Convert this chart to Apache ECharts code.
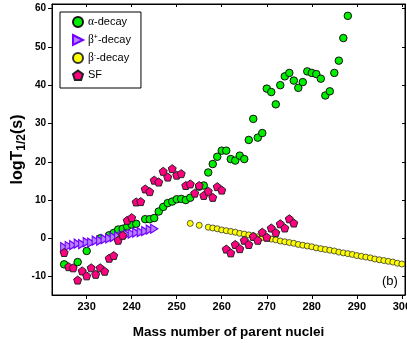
<!DOCTYPE html>
<html>
<head>
<meta charset="utf-8">
<script src="https://cdn.jsdelivr.net/npm/echarts@6/dist/echarts.min.js"></script>
<style>html,body{margin:0;padding:0;background:#fff}#c{width:407px;height:343px}</style>
</head>
<body>
<div id="c"></div>
<script>
// ---- data ----
var alphaA = [225,228,230,233,235,236,237,238,239,240,241,243,244,245,246,247,248,249,250,251,252,253,255,256,257,258,259,260,261,262,263,264,265,266,267,268,269,270,271,272,273,274,275,276,277,278,279,280,281,282,283,284,285,286,287,288];
var alphaV = [-6.8,-6.2,-3.3,0.0,0.8,1.4,2.3,2.5,3.1,3.6,3.8,5.0,5.0,5.3,7.0,8.2,9.2,9.6,10.2,10.3,10.0,10.6,13.5,13.8,17.2,19.4,21.3,22.9,22.9,20.7,20.3,21.6,20.7,25.7,31.2,26.3,27.5,39.1,38.2,35.0,40.0,42.3,43.2,41.2,39.3,40.8,43.6,43.2,42.9,41.7,37.3,38.4,43.2,46.4,52.3,58.1];

var betaPlusA = [225,226,227,228,229,230,231,232,233,234,235,236,237,238,239,240,241,242,243,244,245];
var betaPlusV = [-2.3,-2.0,-1.8,-1.4,-1.5,-1.0,-1.1,-0.6,-0.6,-0.2,0.0,0.3,0.5,0.7,1.0,1.2,1.5,1.6,1.9,2.3,2.5];

var betaMinusA = [253,255,257,258,259,260,261,262,263,264,265,266,267,268,269,270,271,272,273,274,275,276,277,278,279,280,281,282,283,284,285,286,287,288,289,290,291,292,293,294,295,296,297,298,299,300];
var betaMinusV = [3.9,3.4,2.9,2.7,2.5,2.2,2.0,1.8,1.6,1.3,1.1,0.9,0.7,0.4,0.2,0.0,-0.2,-0.4,-0.7,-0.9,-1.1,-1.3,-1.6,-1.8,-2.0,-2.2,-2.5,-2.7,-2.9,-3.1,-3.3,-3.6,-3.8,-4.0,-4.2,-4.5,-4.7,-4.9,-5.1,-5.4,-5.6,-5.8,-6.0,-6.2,-6.5,-6.7];

var sfA = [225,226,227,228,229,230,231,232,233,234,235,236,237,238,239,240,241,242,243,244,245,246,247,248,249,250,251,252,253,254,255,256,257,258,259,260,261,262,263,264,265,266,267,268,269,270,271,272,273,274,275,276];
var sfV = [-3.7,-7.4,-7.7,-10.9,-8.5,-9.8,-7.7,-9.4,-7.7,-8.6,-5.2,-4.5,-0.5,0.8,4.7,5.4,9.5,9.6,12.9,12.2,15.2,14.7,17.5,16.0,18.2,16.5,16.9,13.8,14.2,11.8,13.8,11.2,12.3,10.7,13.5,12.6,-2.8,-3.8,-1.6,-2.7,-0.5,-1.6,0.5,-0.5,1.6,0.3,2.7,1.5,3.8,2.7,5.1,4.0];

var xTicks = [230,240,250,260,270,280,290,300];
var yTicks = [-10,0,10,20,30,40,50,60];
var seriesNames = ['α-decay','β+-decay','β--decay','SF'];

function pairs(a, v){ return a.map(function(x,i){ return [x, v[i]]; }); }

var FONT = 'Arial, "Liberation Sans", sans-serif';
var pentagon = 'path://M0,-1 L0.951,-0.309 L0.588,0.809 L-0.588,0.809 L-0.951,-0.309 Z';
var triRight = 'path://M0,0 L10,5 L0,10 Z';

var XMIN = 222.3, XMAX = 300.7, YMIN = -14.8, YMAX = 61.2;

var chart = echarts.init(document.getElementById('c'), null, {renderer:'canvas'});
chart.setOption({
  animation: false,
  backgroundColor: '#fff',
  grid: {left: 52, right: 2, top: 4, bottom: 48, outerBoundsMode: 'none', containLabel: false,
    show: true, borderColor: '#000', borderWidth: 1, backgroundColor: 'transparent'},
  legend: {
    orient: 'vertical', left: 60, top: 12,
    data: seriesNames,
    backgroundColor: '#fff',
    borderColor: '#000', borderWidth: 1, borderRadius: 0,
    padding: [4, 10, 7, 12],
    itemWidth: 10, itemHeight: 10, itemGap: 5.5,
    textStyle: {fontFamily: FONT, fontSize: 11, color: '#000',
      rich: {
        t: {fontFamily: FONT, fontSize: 11, color: '#000', lineHeight: 13},
        g: {fontFamily: '"Liberation Serif", "Times New Roman", serif', fontSize: 11.5, color: '#000', lineHeight: 13},
        sup: {fontFamily: FONT, fontSize: 7, color: '#000', lineHeight: 8, verticalAlign: 'top'}
      }
    },
    formatter: function(name){
      if (name === 'α-decay') return '{g|α}{t|-decay}';
      if (name === 'β+-decay') return '{g|β}{sup|+}{t|-decay}';
      if (name === 'β--decay') return '{g|β}{sup|-}{t|-decay}';
      return '{t|' + name + '}';
    }
  },
  xAxis: [{
    type: 'value', min: XMIN, max: XMAX, position: 'bottom',
    name: 'Mass number of parent nuclei', nameLocation: 'middle', nameGap: 30, nameMoveOverlap: false,
    nameTextStyle: {fontFamily: FONT, fontSize: 13.5, fontWeight: 'bold', color: '#000'},
    axisLine: {show: true, onZero: false, lineStyle: {color: '#000', width: 1}},
    axisTick: {show: true, inside: false, length: 4, customValues: xTicks, lineStyle: {color: '#000'}},
    axisLabel: {show: true, customValues: xTicks, margin: 6, fontFamily: FONT, fontSize: 11, fontWeight: 'bold', color: '#000'},
    splitLine: {show: false}
  },{
    type: 'value', min: XMIN, max: XMAX, position: 'top',
    axisLine: {show: true, onZero: false, lineStyle: {color: '#000', width: 1}},
    axisTick: {show: true, inside: true, length: 3, customValues: xTicks, lineStyle: {color: '#000'}},
    axisLabel: {show: false},
    splitLine: {show: false}
  }],
  yAxis: [{
    type: 'value', min: YMIN, max: YMAX, position: 'left',
    name: '{a|logT}{b|1/2}{a|(s)}', nameLocation: 'middle', nameGap: 24, nameRotate: 90, nameMoveOverlap: false,
    nameTextStyle: {
      rich: {
        a: {fontFamily: FONT, fontSize: 16, fontWeight: 'bold', color: '#000', lineHeight: 20},
        b: {fontFamily: FONT, fontSize: 12, fontWeight: 'bold', color: '#000', lineHeight: 10, verticalAlign: 'bottom'}
      }
    },
    axisLine: {show: true, onZero: false, lineStyle: {color: '#000', width: 1}},
    axisTick: {show: true, inside: false, length: 4, customValues: yTicks, lineStyle: {color: '#000'}},
    axisLabel: {show: true, customValues: yTicks, margin: 6, fontFamily: FONT, fontSize: 10, fontWeight: 'bold', color: '#000'},
    splitLine: {show: false}
  },{
    type: 'value', min: YMIN, max: YMAX, position: 'right',
    axisLine: {show: true, onZero: false, lineStyle: {color: '#000', width: 1}},
    axisTick: {show: true, inside: true, length: 3, customValues: yTicks, lineStyle: {color: '#000'}},
    axisLabel: {show: false},
    splitLine: {show: false}
  }],
  graphic: [{
    type: 'text', left: 382, top: 275,
    style: {text: '(b)', fontFamily: FONT, fontSize: 13, fill: '#000'}
  }],
  series: [{
    name: seriesNames[0], type: 'scatter', data: pairs(alphaA, alphaV),
    symbol: 'circle', symbolSize: 7.5,
    itemStyle: {color: '#00ee00', borderColor: '#111', borderWidth: 1, opacity: 1}
  },{
    name: seriesNames[1], type: 'scatter', data: pairs(betaPlusA, betaPlusV),
    symbol: triRight, symbolSize: [7, 9],
    itemStyle: {color: '#b780ff', borderColor: '#7000ff', borderWidth: 1.2, opacity: 1}
  },{
    name: seriesNames[2], type: 'scatter', data: pairs(betaMinusA, betaMinusV),
    symbol: 'circle', symbolSize: 6,
    itemStyle: {color: '#ffff00', borderColor: '#333', borderWidth: 0.8, opacity: 1}
  },{
    name: seriesNames[3], type: 'scatter', data: pairs(sfA, sfV),
    symbol: pentagon, symbolSize: 8,
    itemStyle: {color: '#ff0080', borderColor: '#222', borderWidth: 1, opacity: 1}
  }]
});
</script>
</body>
</html>
